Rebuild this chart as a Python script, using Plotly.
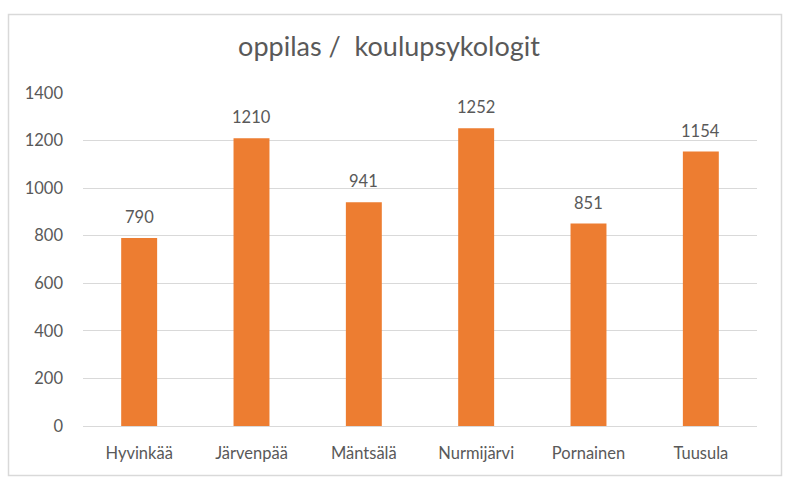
import plotly.graph_objects as go

categories = ["Hyvinkää", "Järvenpää", "Mäntsälä", "Nurmijärvi", "Pornainen", "Tuusula"]
values = [790, 1210, 941, 1252, 851, 1154]
y_ticks = [0, 200, 400, 600, 800, 1000, 1200, 1400]

W, H = 798, 488
L, R, T, B = 83, 757, 93, 426
font_family = "Lato, Open Sans, sans-serif"
txt = "#595959"

fig = go.Figure(go.Bar(
    x=categories, y=values,
    marker=dict(color="#ED7D31", line=dict(width=0)),
    width=0.32,
    hoverinfo="x+y",
))

for c, v in zip(categories, values):
    fig.add_annotation(x=c, y=v, text=str(v), showarrow=False, xref="x", yref="y",
                       yanchor="bottom", yshift=9,
                       font=dict(size=16.5, color=txt, family=font_family))

def px_x(p):
    return (p - L) / (R - L)

def px_y(p):
    return (B - p) / (B - T)

fig.update_layout(
    width=W, height=H,
    margin=dict(l=L, r=W - R, t=T, b=H - B, pad=0),
    paper_bgcolor="white", plot_bgcolor="white",
    showlegend=False,
    title=dict(text="oppilas /  koulupsykologit", x=389 / W, xref="container", xanchor="center",
               y=1 - 47 / H, yanchor="middle",
               font=dict(size=27, color=txt, family=font_family)),
    xaxis=dict(showline=True, linecolor="#D9D9D9", linewidth=1, ticks="", showgrid=False,
               ticklabelstandoff=12,
               tickfont=dict(size=16.5, color=txt, family=font_family)),
    yaxis=dict(range=[0, 1400], tickvals=y_ticks, showgrid=True, gridcolor="#D9D9D9",
               gridwidth=1, zeroline=False, showline=False, ticks="",
               ticklabelstandoff=19,
               tickfont=dict(size=16.5, color=txt, family=font_family)),
    shapes=[dict(type="rect", xref="paper", yref="paper",
                 x0=px_x(8.5), x1=px_x(781.5), y0=px_y(475.5), y1=px_y(14.5),
                 line=dict(color="#D9D9D9", width=1.5), fillcolor="rgba(0,0,0,0)", layer="below")],
)

fig.write_html("out.html")
